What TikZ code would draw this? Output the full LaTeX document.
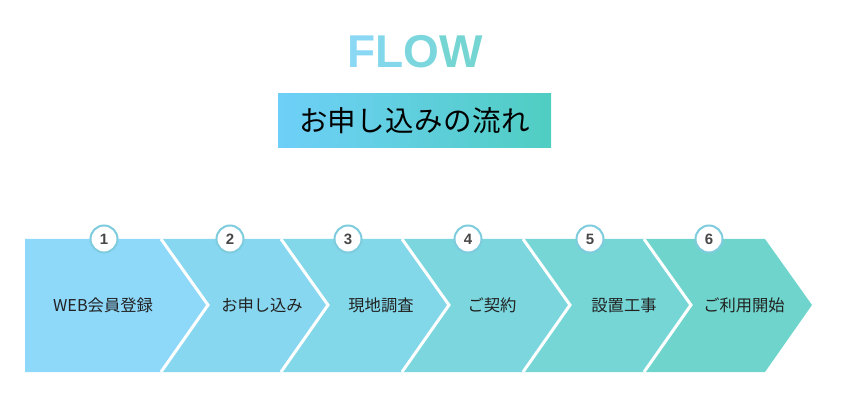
\documentclass[tikz,border=0pt]{standalone}
\usepackage{fontspec}
\setmainfont{Noto Sans CJK JP}
\newfontfamily\latinfont{Liberation Sans}
\definecolor{fskyblue}{HTML}{8ED8FA}
\definecolor{fteal}{HTML}{6FD5CC}
\definecolor{ftitleL}{HTML}{6ECFF8}
\definecolor{ftitleR}{HTML}{50CEC2}
\definecolor{fring}{HTML}{7ECCDD}
\definecolor{fink}{HTML}{222222}
\definecolor{fnum}{HTML}{474747}

\begin{document}
\begin{tikzpicture}[
  x=1pt, y=-1pt,
  titletext/.style={font=\fontsize{46}{46}\latinfont\bfseries, inner sep=0pt},
  titlebox/.style={minimum width=273pt, minimum height=54pt, inner sep=0pt,
                   left color=ftitleL, right color=ftitleR,
                   font=\fontsize{28.5}{28.5}\selectfont\addfontfeatures{LetterSpace=1.5}, text=black},
  sepline/.style={draw=white, line width=3pt, line join=miter},
  stepnum/.style={circle, fill=white, draw=fring, line width=2pt, minimum size=27pt,
                  inner sep=0pt, font=\fontsize{15}{15}\latinfont\bfseries, text=fnum},
  steplabel/.style={inner sep=0pt, font=\fontsize{16.3}{16.3}\selectfont, text=fink},
]
\useasboundingbox (0,0) rectangle (841,406);

% ---------------- heading ----------------
\node[titletext] (flow) at (415,52) {\textcolor{fskyblue!90!fteal}{F}\textcolor{fskyblue!65!fteal}{L}\textcolor{fskyblue!40!fteal}{O}\textcolor{fskyblue!15!fteal}{W}};
\node[titlebox] (subtitle) at (414.5,121) {お申し込みの流れ};

% ---------------- the six chevrons ----------------
\def\bandT{239}
\def\bandM{305}
\def\bandB{372}
\def\tipd{47}
\foreach \l/\r/\n/\p in {25/161/0/0, 161/281/47/20, 281/402/47/40, 402/523/47/60, 523/644/47/80, 644/765/47/100}
  \fill[fteal!\p!fskyblue] (\l,\bandT) -- (\r,\bandT) -- (\r+\tipd,\bandM) -- (\r,\bandB)
    -- (\l,\bandB) -- (\l+\n,\bandM) -- cycle;
\foreach \x in {161,281,402,523,644}
  \draw[sepline] (\x,\bandT) -- (\x+\tipd,\bandM) -- (\x,\bandB);

% ---------------- numbers and labels ----------------
\foreach \i/\x in {1/104, 2/230, 3/348, 4/468, 5/590, 6/709}
  \node[stepnum] (num\i) at (\x,\bandT) {\i};
\node[steplabel] (lab1) at (103,\bandM) {WEB会員登録};
\node[steplabel] (lab2) at (262,\bandM) {お申し込み};
\node[steplabel] (lab3) at (381,\bandM) {現地調査};
\node[steplabel] (lab4) at (492,\bandM) {ご契約};
\node[steplabel] (lab5) at (624,\bandM) {設置工事};
\node[steplabel] (lab6) at (744,\bandM) {ご利用開始};

\end{tikzpicture}
\end{document}
